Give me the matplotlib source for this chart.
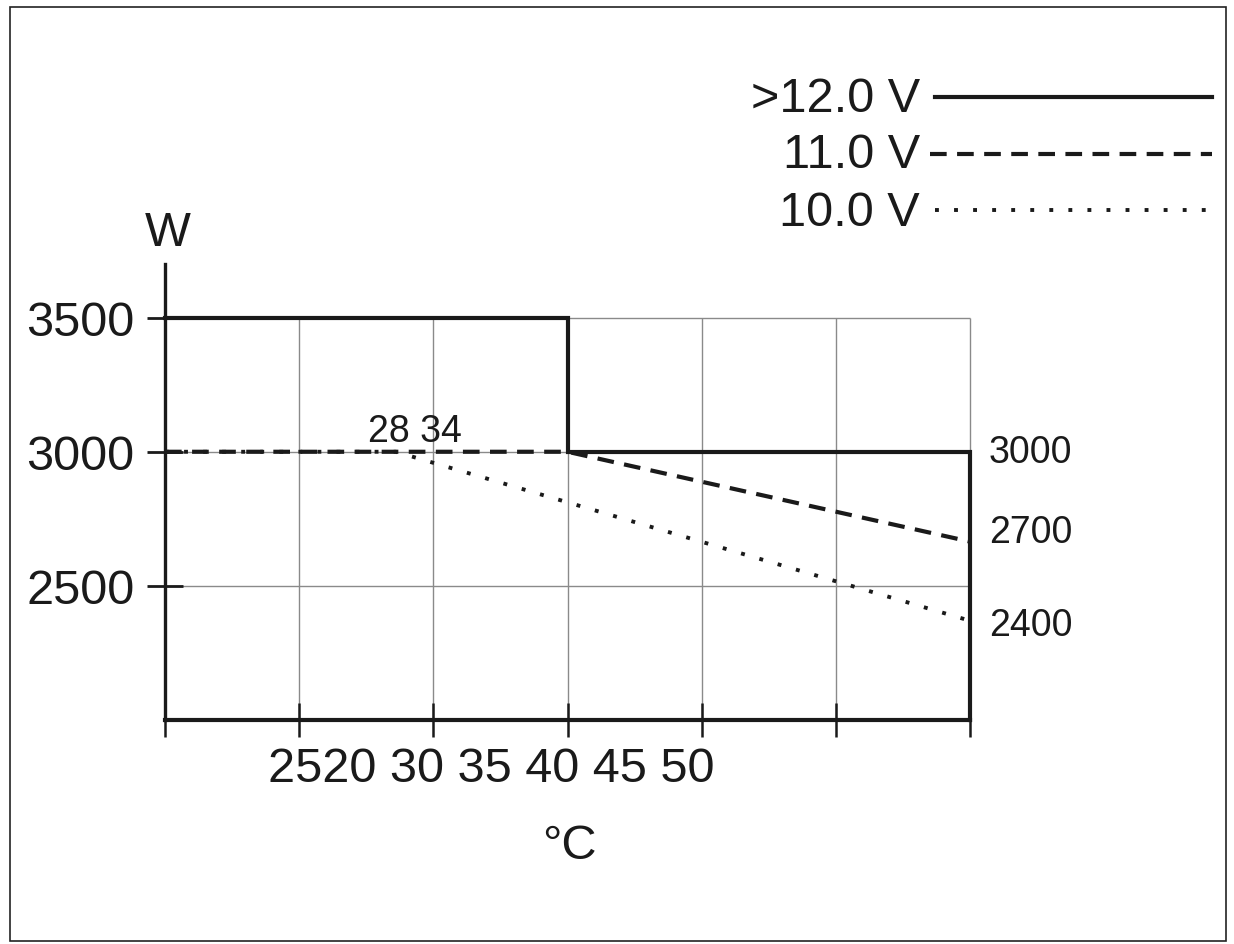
import matplotlib
matplotlib.use("Agg")
import matplotlib.pyplot as plt
from matplotlib.lines import Line2D
from matplotlib.patches import Rectangle

plt.rcParams['font.family'] = ['Liberation Sans', 'DejaVu Sans']

# --- data (x in grid-line units, 0..6; y in W) ---
grid_x = [0, 1, 2, 3, 4, 5, 6]
x_tick_text = "2520 30 35 40 45 50"
y_ticks = [2500, 3000, 3500]
y_tick_labels = ["2500", "3000", "3500"]

v12_x = [0, 3, 3, 6, 6]
v12_y = [3500, 3500, 3000, 3000, 2000]

v11_x = [0, 3, 6]
v11_y = [3000, 3000, 2665]

v10_x = [0, 1.72, 6]
v10_y = [3000, 3000, 2370]

right_labels = ["3000", "2700", "2400"]
right_label_y = [3000, 2700, 2355]
break_labels = "28 34"
series_names = [">12.0 V", "11.0 V", "10.0 V"]

W, H = 1234, 945
fig = plt.figure(figsize=(W / 100, H / 100), dpi=100)
fig.patch.set_facecolor('white')

def fx(px):
    return px / W

def fy(py):
    return 1 - py / H

BIG = 35
SMALL = 27

ax = fig.add_axes([fx(165), fy(721), fx(970) - fx(165), fy(265) - fy(721)])
ax.set_xlim(0, 6)
ax.set_ylim(2000, 3700)
ax.set_facecolor('white')

# grid box (up to 3500 only)
ax.vlines(grid_x[1:], 2000, 3500, colors='#8a8a8a', lw=1.0, zorder=1, clip_on=False)
ax.hlines([2500, 3000, 3500], 0, 6, colors='#8a8a8a', lw=1.0, zorder=1, clip_on=False)

# series
ax.plot(v12_x, v12_y, color='#1a1a1a', lw=3.0, solid_joinstyle='miter', zorder=4, clip_on=False)
ax.plot(v11_x, v11_y, color='#1a1a1a', lw=3.0, dashes=(4.0, 2.5), zorder=3, clip_on=False)
ax.plot(v10_x, v10_y, color='#1a1a1a', lw=2.8, dashes=(1.0, 3.9), zorder=3, clip_on=False)

# spines
for s in ['top', 'right']:
    ax.spines[s].set_visible(False)
ax.spines['left'].set_linewidth(2.4)
ax.spines['bottom'].set_linewidth(3.0)
ax.spines['left'].set_color('#1a1a1a')
ax.spines['bottom'].set_color('#1a1a1a')

ax.set_xticks(grid_x)
ax.set_xticklabels([''] * len(grid_x))
ax.tick_params(axis='x', direction='inout', length=25, width=1.8, color='#1a1a1a')
ax.set_yticks(y_ticks)
ax.set_yticklabels(y_tick_labels, fontsize=BIG, color='#1a1a1a')
ax.tick_params(axis='y', direction='inout', length=26, width=2.0, color='#1a1a1a', pad=9)

# x tick text (as in reference)
fig.text(fx(491), fy(770), x_tick_text, fontsize=BIG, ha='center', va='center', color='#1a1a1a')
# axis units
fig.text(fx(569), fy(847), "°C", fontsize=BIG, ha='center', va='center', color='#1a1a1a')
fig.text(fx(168), fy(233), "W", fontsize=BIG, ha='center', va='center', color='#1a1a1a')

# right labels
for lab, yv in zip(right_labels, right_label_y):
    ax.text(6.14, yv, lab, fontsize=SMALL, ha='left', va='center', color='#1a1a1a', clip_on=False)

ax.text(1.86, 3012, break_labels, fontsize=SMALL, ha='center', va='bottom', color='#1a1a1a')

# legend
leg_y = [100, 156, 213]
styles = [dict(lw=3.0), dict(lw=3.0, dashes=(4.0, 2.5)), dict(lw=2.8, dashes=(1.0, 3.9))]
starts = [935, 930, 935]
line_y = [98, 155, 211]
for name, py, ly, st, sx in zip(series_names, leg_y, line_y, styles, starts):
    fig.text(fx(920), fy(py), name, fontsize=BIG, ha='right', va='center', color='#1a1a1a')
    fig.add_artist(Line2D([fx(sx), fx(1212)], [fy(ly), fy(ly)], color='#1a1a1a', **st))

# border
fig.add_artist(Rectangle((fx(10), fy(942)), fx(1226) - fx(10), fy(8) - fy(942),
                         fill=False, edgecolor='#222222', lw=1.2, transform=fig.transFigure))

fig.savefig('out.png', dpi=100)
